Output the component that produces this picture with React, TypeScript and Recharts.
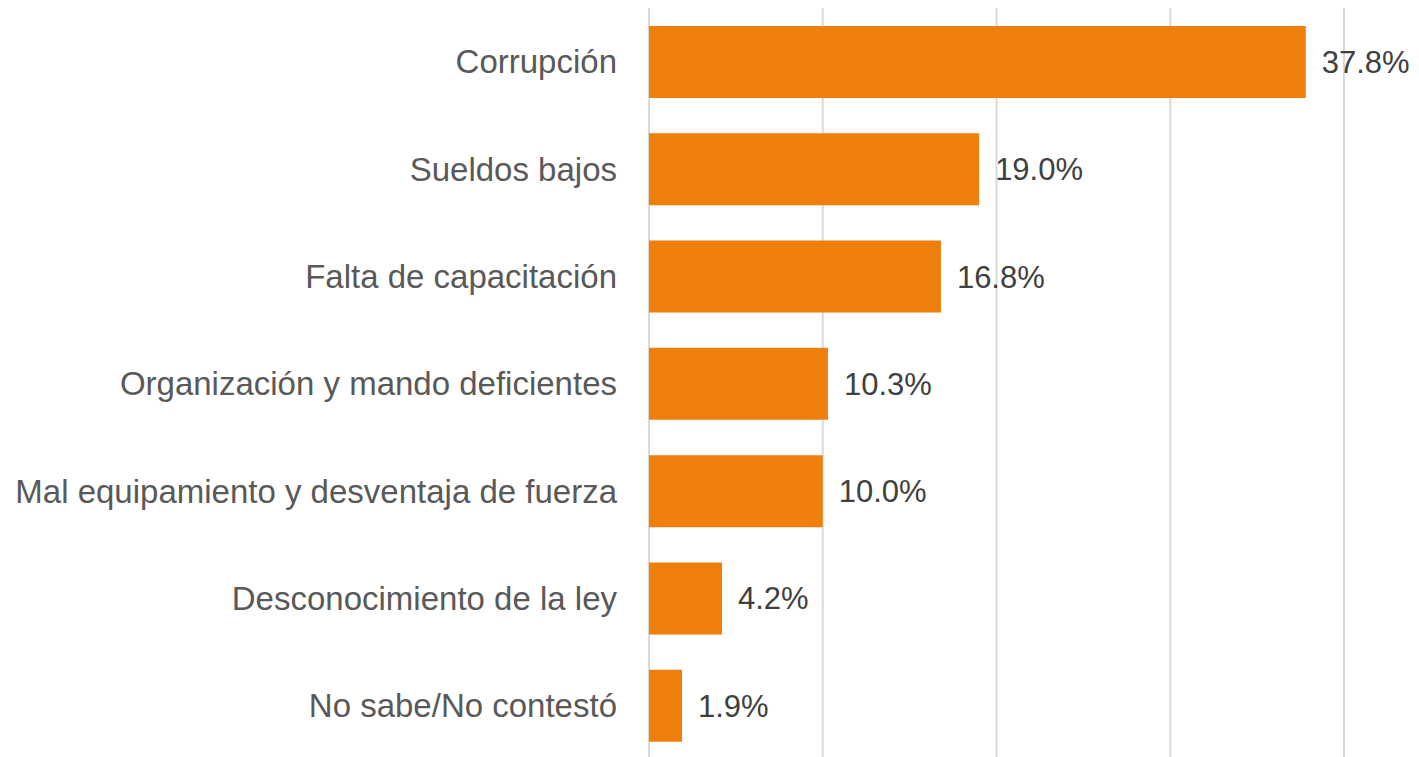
import React from 'react';
import { BarChart, Bar, XAxis, YAxis, CartesianGrid, LabelList } from 'recharts';

const categories = [
    'Corrupción',
    'Sueldos bajos',
    'Falta de capacitación',
    'Organización y mando deficientes',
    'Mal equipamiento y desventaja de fuerza',
    'Desconocimiento de la ley',
    'No sabe/No contestó',
];
const values = [37.8, 19.0, 16.8, 10.3, 10.0, 4.2, 1.9];
const xTicks = [0, 10, 20, 30, 40];

const data = categories.map((name, i) => ({ name, value: values[i] }));

const FONT = '"Liberation Sans", Arial, sans-serif';

export default function App() {
    return (
        <div style={{ position: 'fixed', left: 0, top: 0, width: 1419, height: 757, overflow: 'hidden', background: '#fff' }}>
            <BarChart
                width={1419}
                height={760}
                data={data}
                layout="vertical"
                margin={{ top: 8, right: 75, bottom: 1, left: 0 }}
                barSize={72}
            >
                <CartesianGrid horizontal={false} stroke="#d9d9d9" strokeWidth={2} />
                <XAxis type="number" domain={[0, 40]} ticks={xTicks} hide />
                <YAxis
                    type="category"
                    dataKey="name"
                    width={649}
                    axisLine={false}
                    tickLine={false}
                    tickSize={0}
                    tickMargin={32}
                    tick={{ fill: '#595959', fontSize: 33, fontFamily: FONT }}
                />
                <Bar dataKey="value" fill="#ee7f0b" isAnimationActive={false}>
                    <LabelList
                        dataKey="value"
                        position="right"
                        offset={16}
                        formatter={(v: number) => `${v.toFixed(1)}%`}
                        fill="#404040"
                        fontSize={31}
                        fontFamily={FONT}
                    />
                </Bar>
            </BarChart>
        </div>
    );
}
